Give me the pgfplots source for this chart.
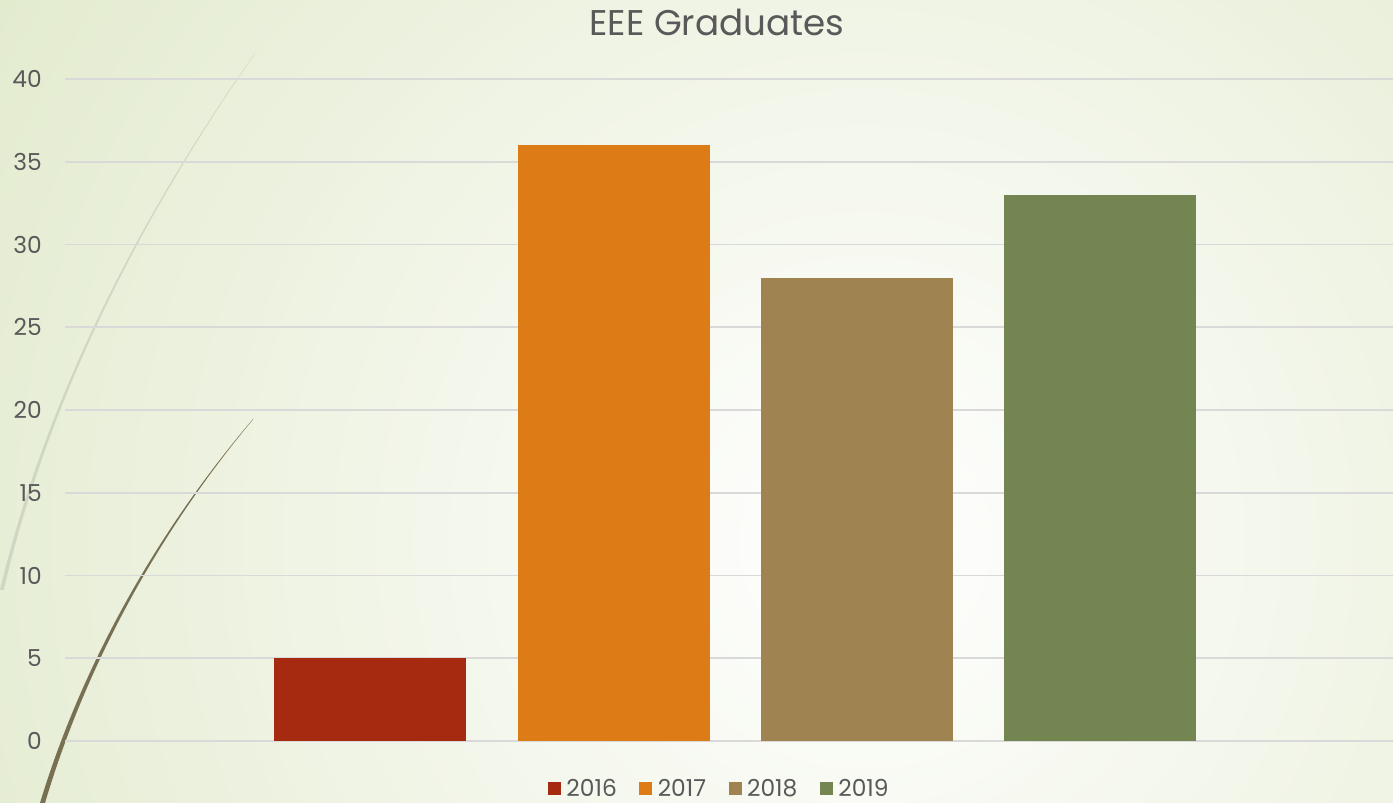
\documentclass[border=0pt]{standalone}
\usepackage{pgfplots}
\pgfplotsset{compat=1.18}
\usepackage{fontspec}
\setmainfont{Poppins}
\definecolor{c16}{HTML}{A52A0F}
\definecolor{c17}{HTML}{DD7C17}
\definecolor{c18}{HTML}{9F8351}
\definecolor{c19}{HTML}{738651}
\definecolor{txt}{HTML}{595959}
\definecolor{gridc}{HTML}{D9D9D9}
\definecolor{bgc}{HTML}{E3EBCF}
\definecolor{arcl}{HTML}{CFD6C2}
\definecolor{arcd}{HTML}{787052}
\begin{document}
\begin{tikzpicture}
\begin{scope}
\clip (-48.75pt,-46.5pt) rectangle (996pt,555.75pt);
\fill[bgc] (-48.75pt,-46.5pt) rectangle (996pt,555.75pt);
\shade[inner color=white, outer color=bgc] (600pt,150pt) circle (760pt);
\fill[arcl] (142.5pt,516pt) .. controls (57pt,394.7pt) and (-14.1pt,258.75pt) .. (-48.75pt,113.25pt)
  -- (-46pt,113.25pt) .. controls (-12.1pt,258.75pt) and (58.2pt,394.7pt) .. (142.8pt,516pt) -- cycle;
\fill[arcd] (141pt,241.5pt) .. controls (69.75pt,157.9pt) and (13.1pt,58.5pt) .. (-18.75pt,-46.5pt)
  -- (-15pt,-46.5pt) .. controls (16.1pt,58.5pt) and (71.4pt,157.9pt) .. (141.3pt,241.5pt) -- cycle;
\end{scope}
\begin{axis}[
  at={(0pt,0pt)}, anchor=south west,
  scale only axis, width=996pt, height=496.5pt,
  xmin=-1.2526, xmax=4.2013, ymin=0, ymax=40,
  ytick={0,5,...,40}, xtick=\empty,
  axis line style={draw=none},
  ymajorgrids, grid style={color=gridc, line width=1.2pt},
  major tick length=0pt,
  /pgf/number format/assume math mode=true,
  yticklabel style={font=\fontsize{17.5}{17.5}\selectfont, text=txt, anchor=east, inner sep=0pt, xshift=-17.25pt},
  ybar, bar width=144pt, bar shift=0pt,
  title={EEE Graduates},
  title style={at={(axis description cs:0.491,1.074)}, anchor=center, font=\fontsize{26.8}{26.8}\selectfont, text=txt},
  legend columns=4,
  legend style={at={(axis description cs:0.493,-0.072)}, anchor=center, draw=none, fill=none,
    font=\fontsize{17.5}{17.5}\selectfont, text=txt,
    /tikz/every odd column/.append style={column sep=2pt},
    /tikz/every even column/.append style={column sep=15pt}},
  legend image code/.code={\fill[#1] (0pt,-4.875pt) rectangle (9.75pt,4.875pt);},
]
\addplot[fill=c16, draw=none] coordinates {(0,5)};
\addplot[fill=c17, draw=none] coordinates {(1,36)};
\addplot[fill=c18, draw=none] coordinates {(2,28)};
\addplot[fill=c19, draw=none] coordinates {(3,33)};
\legend{2016,2017,2018,2019}
\end{axis}
\pgfresetboundingbox
\path[use as bounding box] (-48.75pt,-46.5pt) rectangle (996pt,555.75pt);
\end{tikzpicture}
\end{document}
